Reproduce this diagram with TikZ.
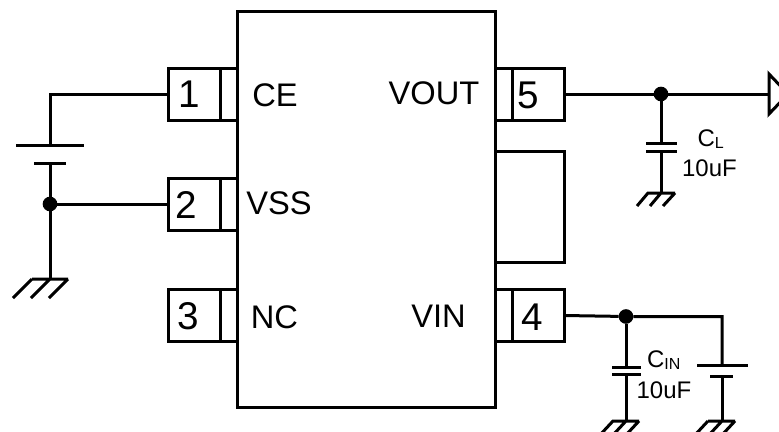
\documentclass[tikz,border=0pt]{standalone}
\usepackage{fontspec}
\setmainfont{Liberation Sans}
\begin{document}
\begin{tikzpicture}[x=0.75pt,y=-0.75pt,line width=2.25pt,line cap=butt,
  box/.style={draw,rectangle,inner sep=0pt,outer sep=0pt},
  pinbox/.style={box,minimum width=51.75pt,minimum height=39pt},
  junction/.style={circle,fill=black,inner sep=0pt,minimum size=11pt,outer sep=0pt},
  digit/.style={inner sep=0pt,font=\fontsize{29}{29}\selectfont},
  pinlabel/.style={inner sep=0pt,font=\fontsize{24.5}{25}\selectfont},
  vallabel/.style={inner sep=0pt,font=\fontsize{18}{18}\selectfont},
  plate/.style={line width=2.25pt},
  gnd/.style={line width=2.25pt}]
\useasboundingbox (0,0) rectangle (779,432);
\begin{scope}
\clip (0,0) rectangle (779,432);
% chip
\node[box,minimum width=193.5pt,minimum height=297pt] (chip) at (366,209) {};
% pins
\node[pinbox] (p1) at (202.5,94) {};
\node[pinbox] (p2) at (202.5,204) {};
\node[pinbox] (p3) at (202.5,315) {};
\node[pinbox] (p5) at (529.5,94) {};
\node[pinbox] (p4) at (529.5,315.5) {};
\node[box,minimum width=51.75pt,minimum height=83.25pt] (tab) at (529.5,206.5) {};
\draw (220,68) -- (220,120) (220,178) -- (220,230) (220,289) -- (220,341);
\draw (512,68) -- (512,120) (512,289.5) -- (512,341.5);
% pin digits
\node[digit] (d1) at (189,94) {1};
\node[digit] (d2) at (186,204.5) {2};
\node[digit] (d3) at (188,316.5) {3};
\node[digit] (d5) at (528,95) {5};
\node[digit] (d4) at (532,317) {4};
% pin labels
\node[pinlabel] (lce) at (275,95) {CE};
\node[pinlabel] (lvss) at (279,203) {VSS};
\node[pinlabel] (lnc) at (274.5,317) {NC};
\node[pinlabel] (lvout) at (434,93) {VOUT};
\node[pinlabel] (lvin) at (438.5,316) {VIN};
% left battery
\coordinate (bt) at (50,145);
\coordinate (bb) at (50,163);
\coordinate (g1) at (50,279);
\node[junction] (j1) at (50,204) {};
\draw (p1.west) -- (50,94) -- (bt);
\draw[plate] (16,145) -- (84,145);
\draw[plate] (34,163) -- (66,163);
\draw (bb) -- (j1) -- (g1);
\draw (j1) -- (p2.west);
\draw[gnd] (32,279) -- (68,279) (32,279) -- (13,298) (50,279) -- (31,298) (68,279) -- (49,298);
% output
\node[junction] (j2) at (661,94) {};
\coordinate (ot) at (769,94);
\draw (p5.east) -- (j2) -- (ot);
\draw[line join=miter] (788,94) -- (769,74) -- (769,114) -- cycle;
\coordinate (c1t) at (661,143);
\coordinate (c1b) at (661,151);
\coordinate (g2) at (661,193);
\draw (j2) -- (c1t) (c1b) -- (g2);
\draw[plate] (646,143) -- (677,143) (646,151) -- (677,151);
\draw[gnd] (647,193) -- (675,193) (648,193) -- (637,206) (661,193) -- (650,206) (675,193) -- (663,206);
\node[vallabel,anchor=base west] (lcl) at (696,146) {C\raisebox{-1.5pt}{\fontsize{12}{12}\selectfont L}};
\node[vallabel] (lclv) at (709.5,168) {10uF};
% input
\node[junction] (j3) at (626,316.5) {};
\coordinate (c2t) at (626,367);
\coordinate (c2b) at (626,374);
\coordinate (g3) at (626,421);
\coordinate (b2) at (722,316.5);
\coordinate (b2t) at (722,365);
\coordinate (b2b) at (722,376);
\coordinate (g4) at (722,421);
\draw (p4.east) -- (j3) -- (b2) -- (b2t);
\draw (j3) -- (c2t) (c2b) -- (g3);
\draw (b2b) -- (g4);
\draw[plate] (612,367) -- (641,367) (612,374) -- (641,374);
\draw[plate] (697,365) -- (748,365) (710,376) -- (733,376);
\draw[gnd] (612,421) -- (639,421) (613,421) -- (600,435) (626,421) -- (613,435) (639,421) -- (626,435);
\draw[gnd] (708,421) -- (735,421) (708,421) -- (695,435) (722,421) -- (709,435) (735,421) -- (722,435);
\node[vallabel,anchor=base west] (lcin) at (645.5,367) {C\raisebox{-1.5pt}{\fontsize{12}{12}\selectfont IN}};
\node[vallabel] (lcinv) at (664,390) {10uF};
\end{scope}
\end{tikzpicture}
\end{document}
